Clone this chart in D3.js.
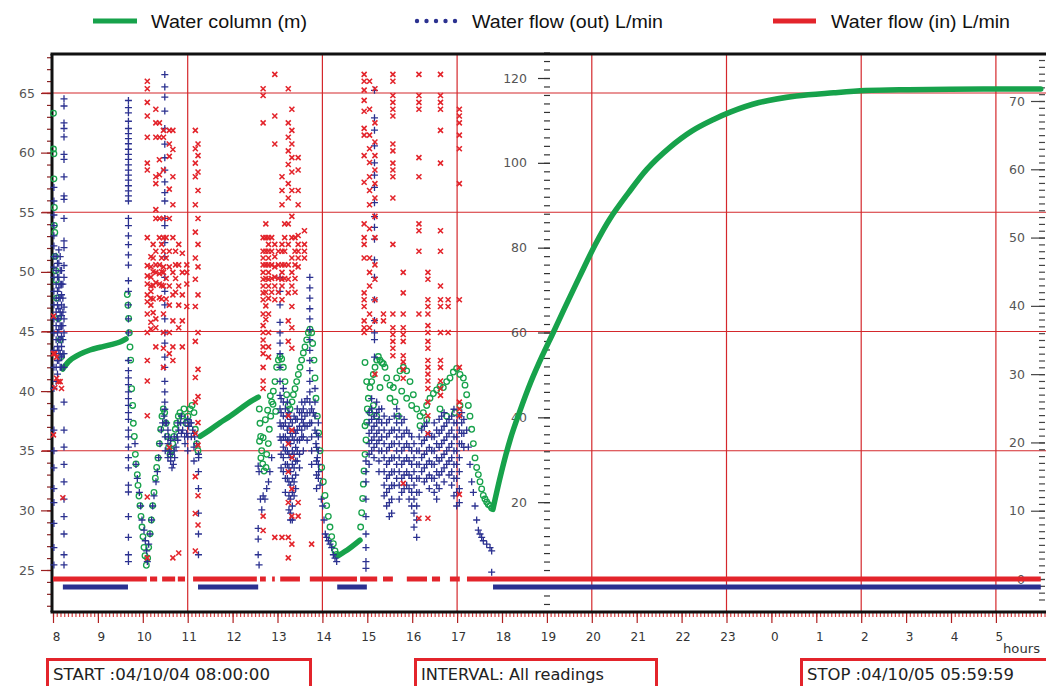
<!DOCTYPE html>
<html>
<head>
<meta charset="utf-8">
<script src="https://cdn.jsdelivr.net/npm/d3@7"></script>
<style>
  body { margin: 0; background: #fff; }
  svg { display: block; font-family: "DejaVu Sans", Verdana, sans-serif; }
</style>
</head>
<body>
<svg id="chart" width="1046" height="686"></svg>
<script>
// ---- axes / labels ----
const hourTicks = [8,9,10,11,12,13,14,15,16,17,18,19,20,21,22,23,24,25,26,27,28,29];
const gridHours = [11,14,17,20,23,26,29];
const leftTicks = [25,30,35,40,45,50,55,60,65];      // water column (m)
const gridLeft = [35,45,55,65];
const middleTicks = [20,40,60,80,100,120];           // flow out L/min
const rightTicks = [0,10,20,30,40,50,60,70];         // flow in L/min
const infoBoxes = ["START :04/10/04 08:00:00", "INTERVAL: All readings", "STOP :04/10/05 05:59:59"];

// ---- water column (m): steady stretches (dense readings) ----
const columnSteady = [
  [[8.215,41.85],[8.378,42.58],[8.601,43.10],[8.824,43.45],[9.047,43.68],[9.27,43.88],[9.492,44.12],[9.626,44.38]],
  [[11.274,36.2],[11.497,36.75],[11.72,37.35],[11.942,37.9],[12.165,38.5],[12.388,39.1],[12.573,39.5]],
  [[14.355,26.2],[14.6,26.8],[14.837,27.5]],
  [[17.797,30.08],[17.98,33.1],[18.187,36.0],[18.396,38.3],[18.646,40.8],[18.895,42.95],[19.145,44.94],[19.394,46.96],
   [19.728,49.6],[20.078,52.3],[20.394,54.4],[20.811,56.6],[21.225,58.6],[21.726,60.4],[22.225,61.8],[22.724,62.8],
   [23.082,63.4],[23.724,64.2],[24.554,64.75],[25.387,65.02],[26.095,65.2],[27.05,65.28],[28.718,65.34],[30.0,65.34]]
];

// ---- water column (m): readings while pumping ----
const columnReadings = [
  [8.01,63.3],[8.01,60.3],[8.02,59.9],[8.02,57.8],[8.03,55.4],[8.03,53.9],[8.04,53.3],[8.05,51.3],[8.06,50.1],[8.07,49.3],
  [8.08,47.8],[8.12,46.1],[8.16,44.3],[8.19,42.9],
  [9.655,48.1],[9.67,47.2],[9.685,46.1],[9.7,44.9],[9.715,43.7],[9.73,42.6],[9.752,40.2],[9.774,38.8],[9.789,37.3],[9.811,36.2],
  [9.834,34.7],[9.848,33.9],[9.878,33.0],[9.893,32.1],[9.915,31.2],[9.937,30.4],[9.96,29.5],[9.982,28.6],[10.004,27.8],[10.027,26.9],
  [10.049,26.2],[10.079,25.4],[10.108,26.0],[10.131,26.9],[10.16,28.05],[10.19,29.2],[10.22,30.4],[10.249,31.5],[10.279,32.7],[10.309,33.6],
  [10.338,34.4],[10.368,35.6],[10.398,36.8],[10.427,37.9],[10.457,38.5],[10.487,38.2],[10.517,37.3],[10.546,36.2],[10.576,35.3],[10.606,34.7],
  [10.635,35.0],[10.665,35.6],[10.695,36.2],[10.724,36.8],[10.754,37.3],[10.791,37.9],[10.828,38.2],[10.873,37.9],[10.917,38.5],[10.962,37.3],
  [11.007,37.9],[11.051,38.5],[11.096,38.8],[11.14,38.2],[11.17,36.8],[11.2,35.6],[11.229,35.0],
  [12.595,38.5],[12.61,37.3],[12.625,36.2],[12.647,35.0],[12.67,33.9],[12.7,33.3],[12.744,33.6],[12.759,34.7],[12.796,35.6],[12.818,36.8],
  [12.848,37.9],[12.87,39.1],[12.907,40.0],[12.944,40.8],[12.981,42.0],[13.019,42.6],[13.056,42.9],[13.093,42.7],[13.13,42.0],[13.167,40.8],
  [13.204,39.7],[13.241,38.8],[13.278,38.5],[13.323,39.1],[13.353,39.7],[13.39,40.2],[13.427,40.8],[13.464,41.4],[13.501,42.0],[13.538,42.6],
  [13.575,43.2],[13.612,43.7],[13.65,44.3],[13.687,44.9],[13.724,45.2],[13.761,44.9],[13.783,44.0],[13.813,42.6],[13.835,41.1],[13.857,39.4],
  [13.887,37.9],[13.917,36.5],[13.947,35.0],[13.984,33.6],[14.021,32.4],[14.058,31.25],[14.095,30.4],[14.132,29.5],[14.169,28.6],[14.207,27.8],
  [14.244,27.2],[14.281,26.6],[14.318,26.3],
  [12.6,35.8],[12.63,34.4],[12.68,36.1],[12.73,37.6],[12.78,38.4],[12.84,39.6],[12.9,38.9],[12.96,38.3],
  [14.852,28.6],[14.875,29.8],[14.897,31.0],[14.912,32.2],[14.927,33.3],[14.949,34.7],[14.971,35.9],[14.986,37.4],[15.001,38.5],[15.023,39.4],
  [14.986,40.8],[14.949,42.4],[15.06,40.3],[15.097,40.8],[15.134,41.4],[15.172,42.0],[15.209,42.6],[15.246,42.9],[15.283,42.6],[15.32,42.4],
  [15.357,42.3],[15.394,42.0],[15.431,41.1],[15.506,40.5],[15.58,40.3],[15.654,41.1],[15.728,41.7],[15.803,42.0],[15.877,41.7],[15.951,40.8],
  [16.025,39.7],[16.1,38.5],[16.174,37.9],[16.248,38.2],[16.322,38.8],[16.396,39.4],[16.471,39.8],[16.545,40.1],[16.619,40.4],[16.693,40.3],
  [16.768,40.8],[16.842,41.1],[16.916,41.6],[16.99,41.9],[17.065,41.4],[17.139,41.1],[17.176,40.5],[17.213,39.7],[17.25,38.8],[17.287,37.9],
  [17.325,36.8],[17.362,35.6],[17.399,34.4],[17.436,33.6],[17.473,33.0],[17.51,32.4],[17.547,31.8],[17.584,31.25],[17.621,30.95],[17.659,30.7],
  [17.696,30.5],[17.733,30.4],[17.77,30.2],
  [14.949,37.1],[15.06,38.2],[15.134,38.8],[15.209,37.9],[15.283,40.3],[15.506,39.4],[15.617,39.1],[15.691,37.9],[15.766,40.0],[15.877,39.4],
  [15.988,38.8],[16.174,37.1],[16.322,37.6],[16.619,38.5],[16.768,37.9],[16.953,38.2],[17.065,38.8]
];

// ---- water flow (out) L/min: idle stretches at zero, readings while pumping ----
const flowOutIdle = [[8.22,9.67],[11.23,12.57],[14.33,14.99],[17.8,30.0]];
const flowOutReadings = [
  [8.02,[94.2,91.0,87.7,85.2,82.8,80.4,77.9,75.4,73.0,69.7,66.5,63.2,59.9,55.8,51.8,46.8,42.0,37.0,32.1,28.1,23.2,19.9,15.0,9.3,5.2]],
  [8.07,[78.0,74.6,71.4,68.1,64.8,61.6,58.3,55.0,51.8,48.5]],
  [8.1,[76.3,73.0,69.7,66.5,63.2,59.9,56.7,53.4,50.2]],
  [8.13,[79.5,76.3,73.0,70.5,68.1,65.6,63.2,60.7,58.3,55.8,53.4]],
  [8.16,[77.9,74.6,71.4,68.1,64.8,61.6,58.3,55.0,51.8]],
  [8.19,[74.6,71.4,68.9,66.5,64.0,61.6,59.1,56.7,54.2,51.8]],
  [8.22,[71.4,68.1,64.8,61.6,58.3,55.0]],
  [8.245,[115.1,113.4,109.4,108.1,106.1,102.0,100.8,96.7,92.2,91.4,86.9,81.6,80.0,75.8,73.0,66.0,63.2,59.9,55.0,51.8,43.6,37.0,33.0,28.9,24.8,20.7,16.6,12.5,7.6,5.2]],
  [9.68,[114.7,113.0,111.8,109.8,108.1,106.9,105.7,104.5,103.2,102.0,100.8,99.5,98.3,97.1,95.9,94.6,93.4,92.2,91.0,86.9,85.2,82.8,80.7,78.3,75.9,
         72.2,69.7,66.5,63.2,59.9,53.4,51.0,49.3,47.7,46.0,44.4,42.8,41.1,39.5,37.0,35.4,33.0,30.5,28.1,24.0,22.4,16.6,11.7,7.6,6.0]],
  [9.826,[33.8]],[9.848,[28.9]],[9.878,[25.6]],[9.923,[22.3]],[9.952,[19.1]],[9.982,[15.8]],[10.027,[13.4]],[10.056,[10.9]],[10.086,[8.5]],
  [10.101,[6.0]],[10.131,[10.1]],[10.16,[12.5]],[10.197,[15.8]],[10.22,[19.1]],[10.249,[21.5]],[10.294,[24.8]],[10.324,[27.2]],[10.353,[30.5]],
  [10.383,[33.8]],[10.413,[37.0]],[10.442,[38.7]],[10.472,[40.3]],[10.531,[38.7]],[10.569,[35.4]],[10.591,[32.1]],[10.621,[29.7]],[10.65,[28.1]],
  [10.68,[28.9]],[10.71,[30.5]],[10.74,[33.0]],[10.769,[35.4]],[10.799,[37.0]],[10.843,[38.7]],[10.888,[37.0]],[10.932,[35.4]],[10.977,[36.2]],
  [11.022,[37.9]],[11.051,[38.7]],[11.111,[37.0]],[11.155,[35.4]],[11.2,[33.8]],[11.244,[30.5]],
  [10.5,[38.7,35.4,32.1]],[10.56,[37.0,33.8,30.5]],[10.62,[34.6,31.3]],[10.7,[32.1,35.4]],[10.78,[38.7,34.6]],[10.86,[36.2,40.3]],
  [10.94,[38.7,33.8]],[11.0,[39.5,35.4,32.1]],[11.08,[38.7,35.4]],[11.14,[36.2,33.0,29.7]],
  [10.49,[120.8,117.9,115.5,112.2,108.1,104.4,101.2,98.3,95.5,93.0,91.0,86.9,85.2,81.2,77.9,73.0,69.7,66.5,63.2,59.9,57.5,54.2,51.8,48.5,46.0,43.6,41.9]],
  [11.24,[31.3,27.2,23.2,17.4,12.5,7.6]],
  [12.57,[28.5,13.8,11.3,7.6]],[12.59,[27.2,5.2]],[12.62,[20.7]],[12.65,[18.2]],[12.68,[21.5]],[12.72,[20.7]],[12.76,[23.2]],[12.8,[24.8]],
  [12.83,[27.2]],[12.87,[30.5]],
  [13.056,[73.0,69.7,66.5,62.4,59.9,57.5,55.0,51.8,48.5,45.2,42.0,38.7,35.4]],
  [13.08,[44.4,41.1,37.9,34.6,31.3,28.1]],
  [13.13,[46.8,43.6,40.3,37.9,35.4,33.0,30.5,27.2]],
  [13.175,[42.0,38.7,35.4,32.1,28.9,25.6,22.3]],
  [13.22,[43.6,40.3,37.0,34.6,32.1,28.9,25.6]],
  [13.255,[41.1,37.9,34.6,31.3,28.1,24.8,21.5,18.2]],
  [13.29,[39.5,36.2,33.8,30.5,27.2,24.0,20.7,17.4,15.8]],
  [13.33,[38.7,35.4,32.1,28.9,25.6,22.3,19.1,15.8]],
  [13.37,[40.3,37.0,34.6,31.3,28.1,24.8,21.5]],
  [13.405,[39.5,36.2,32.9,29.7,26.4,23.2]],
  [13.44,[42.0,39.5,37.0,34.6,32.1,29.7]],
  [13.49,[41.1,37.9,34.6,31.3,28.1]],
  [13.54,[43.6,41.1,39.5,37.0,35.4]],
  [13.575,[42.0,38.7,35.4,32.1]],
  [13.61,[43.6,40.3,37.9]],
  [13.66,[44.4,41.1,37.9,34.6]],
  [13.72,[73.0,70.5,68.1,65.6,63.2,60.7,58.3,55.8,53.4,51.0,48.5,46.0,43.6,41.1,38.7]],
  [13.76,[42.0,38.7,35.4,32.1,28.9]],
  [13.835,[46.8,43.6,40.3,37.0]],
  [13.87,[36.2,32.9,29.7,26.4,23.2]],
  [13.91,[38.7,35.4,32.1,28.9,25.6]],
  [13.798,[41.1]],[13.857,[33.8]],[13.887,[30.5]],[13.917,[27.2]],[13.947,[24.0]],[13.976,[20.7]],[14.006,[19.1]],[14.036,[15.8]],
  [14.065,[12.5]],[14.095,[11.7]],[14.132,[10.9]],[14.169,[10.1]],[14.207,[9.3]],[14.244,[7.6]],[14.281,[6.8]],[14.318,[6.0]],
  [14.97,[4.4,6.0,9.3,12.5,16.6,20.7,24.8,27.2,29.7]],
  [15.16,[117.1,110.6,107.7,104.0,100.0,97.1,94.2,90.6,87.3,84.8,82.0,77.1,73.0,67.7,62.8,59.9,58.3,54.2]],
  [15.04,[41.1,38.7,36.2,33.8,31.3,28.9]],
  [15.097,[44.4,42.0,39.5,37.0,34.6,32.1]],
  [15.15,[40.3,37.9,35.4,32.9,30.5]],
  [15.209,[43.6,41.1,38.7,36.2,33.8]],
  [15.26,[41.9,39.5,37.0,34.6,32.1,29.7,27.2]],
  [15.32,[42.0,38.7,35.4,32.1]],
  [15.375,[40.3,37.0,33.8,30.5,27.2,24.0,21.5]],
  [15.431,[38.7,35.4,32.1,28.9,25.6,22.3,19.1]],
  [15.49,[39.5,36.2,32.9,29.7,26.4,23.2,19.9,16.6]],
  [15.543,[37.0,33.8,30.5,27.2,24.0,20.7,17.4]],
  [15.6,[40.3,37.0,33.8,30.5,27.2,23.9]],
  [15.654,[42.0,38.7,35.4,32.1,28.9,25.6]],
  [15.71,[40.3,37.0,33.8,30.5,27.2,24.0,20.7]],
  [15.766,[38.7,35.4,32.1,28.9,25.6,22.3]],
  [15.82,[39.5,36.2,32.9,29.7,26.4,23.2]],
  [15.877,[37.0,33.8,30.5,27.2,24.0]],
  [15.93,[36.2,32.9,29.7,26.4,23.2,20.7]],
  [15.988,[35.4,32.1,28.9,25.6,22.3,19.1]],
  [16.04,[33.8,30.5,27.2,24.0,20.7,17.4,14.1]],
  [16.1,[32.1,28.9,25.6,22.3,19.1,15.8,11.7]],
  [16.155,[35.4,32.1,28.9,25.6,22.3]],
  [16.211,[37.0,33.8,30.5,27.2]],
  [16.27,[37.9,34.6,31.3,28.1,24.8]],
  [16.322,[38.7,35.4,32.1,28.9,25.6]],
  [16.38,[36.2,32.9,29.7,26.4,23.2]],
  [16.434,[35.4,32.1,28.9,25.6]],
  [16.49,[38.7,35.4,32.1,28.9,25.6,22.3]],
  [16.545,[37.0,33.8,30.5,27.2,24.0,20.7]],
  [16.6,[39.5,36.2,32.9,29.7,26.4,23.2]],
  [16.656,[40.3,37.0,33.8,30.5,27.2]],
  [16.71,[41.1,37.9,34.6,31.3,28.1,24.8]],
  [16.768,[38.7,35.4,32.1,28.9]],
  [16.82,[39.5,36.2,32.9,29.7,26.4]],
  [16.879,[40.3,37.0,33.8,30.5,27.2,24.0]],
  [16.93,[41.9,38.7,35.4,32.1,28.9,25.6,21.5]],
  [16.99,[38.7,35.4,32.1,28.9,25.6,22.3,19.1]],
  [17.05,[40.3,37.0,33.8,30.5,27.2,23.2,19.9]],
  [17.102,[41.1,38.7,36.2,33.8]],
  [17.15,[39.5,36.2,32.9]],
  [17.213,[37.0]],[17.25,[33.0]],[17.287,[28.9]],[17.325,[24.8]],[17.362,[22.3]],[17.399,[19.1]],[17.436,[15.8]],[17.473,[13.4]],
  [17.51,[12.5]],[17.547,[11.7]],[17.584,[10.9]],[17.659,[10.1]],[17.733,[9.3]],[17.77,[8.5,3.5]]
];

// ---- water flow (in) L/min: zero stretches, readings while pumping ----
const flowInIdle = [[8.0,10.09],[10.16,10.32],[10.43,10.72],[10.78,10.94],[11.12,12.54],[12.61,12.74],[12.88,12.94],[13.06,13.5],
  [13.72,14.77],[14.84,15.22],[15.35,15.57],[15.88,16.33],[16.44,16.62],[16.84,17.06],[17.22,30.0]];
const flowInReadings = [
  [8.01,[38.5,33.0,21.1]],[8.04,[33.0,28.0]],[8.08,[32.5,29.4]],[8.12,[28.9]],[8.16,[28.9]],[8.19,[27.9]],[8.22,[11.9]],
  [10.1,[72.9,71.8,69.8,67.8,64.7,60.9,59.9,50.0,45.9,44.4,43.2,41.6,40.6,38.8,36.1,32.0,29.0,23.9,12.0,3.1]],
  [10.18,[47.2,45.7,44.2,42.9,42.1,41.1,40.1,37.6,36.6]],
  [10.23,[49.0,47.0,45.0,43.0,41.0,39.0]],
  [10.29,[68.8,66.8,64.7,58.9,57.9,54.1,52.8,48.0,46.0,44.9,43.4,38.1,36.8,34.0]],
  [10.37,[66.8,64.7,61.4,59.2,52.8,50.0,46.0,44.7,43.2,41.2]],
  [10.42,[49.0,47.0,45.0,43.0,41.0]],
  [10.46,[65.7,64.7,59.9,52.8,50.0,48.0,45.7,44.9,42.9,38.8,36.1,33.8,31.0]],
  [10.52,[50.0,47.0,44.0,41.0]],
  [10.59,[65.7,63.7,61.9,57.1,52.8,48.0,45.7,42.9,40.1,36.1,33.0,19.3]],
  [10.67,[65.7,62.9,58.9,54.8,50.0,44.9,41.6,37.8,34.0,32.0,3.1]],
  [10.73,[48.0,46.0,44.0,42.0]],
  [10.8,[49.0,46.0,42.9,40.1,36.8,3.8]],
  [10.88,[47.7,44.9,41.6,37.8,34.0]],
  [10.98,[46.0,44.9,43.2,39.9]],
  [11.17,[65.7,63.0,60.9,58.9,54.8,50.8,47.0,43.9,39.9,34.8,29.5,25.9,21.3,15.0,9.6,4.1]],
  [11.23,[63.7,62.0,59.6,56.9,52.8,49.0,45.7,41.6,36.1,30.7,26.7,22.9,19.6,12.2,7.9]],
  [12.68,[71.8,70.8,66.8,50.0,48.0,47.0,46.0,44.9,43.9,42.9,41.9,40.9,38.8,37.1,36.1,35.0,34.0,33.0,31.0,29.0,27.9,9.2,7.1]],
  [12.74,[52.0,50.0,48.0,46.0,44.0,42.0,40.0,38.0]],
  [12.8,[50.0,49.0,48.0,47.0,46.0,44.9,43.9,42.9,41.1,38.8,36.1,34.0,32.5]],
  [12.87,[50.0,48.0,46.0,44.0,42.0]],
  [12.94,[73.9,67.8,63.7,49.0,47.2,45.7,44.2,42.9,40.9,6.1]],
  [13.02,[48.0,46.0,44.0,42.0]],
  [13.1,[58.9,56.9,54.8,49.0,48.0,46.0,44.9,43.9,42.9,40.9,6.1]],
  [13.16,[52.0,50.0,48.0,46.0,44.0]],
  [13.24,[71.8,66.8,64.7,62.7,60.7,57.9,55.8,52.0,49.0,46.0,43.9,41.9,37.8,34.8,23.9,19.8,15.7,11.2,6.1,3.1]],
  [13.32,[68.8,65.7,63.7,61.7,59.6,56.9,53.1,50.0,47.0,44.9,42.9,39.9,36.8,33.8,21.8,17.8,13.2,9.2,5.1]],
  [13.39,[50.0,48.0,46.0,44.0,42.0]],
  [13.46,[61.7,59.9,56.9,54.8,50.3,49.0,48.0,47.0,45.7,11.2,9.2]],
  [13.6,[51.0,49.0,48.0,47.0]],
  [13.76,[5.1]],
  [14.93,[73.9,72.9,71.6,70.1,68.5,66.0,65.0,62.0,58.1,52.0,50.0,49.0,47.0,41.9,40.9,39.9,37.8,36.8,36.1]],
  [15.05,[72.9,68.8,65.0,63.0,61.0,58.9,56.9,54.8,51.3,47.0,44.9,42.9,38.8,36.8]],
  [15.17,[71.8,66.8,64.0,62.0,59.9,57.9,55.8,53.1,50.0,46.0,43.9,40.9,37.8,30.0]],
  [15.36,[38.8,37.8]],
  [15.57,[73.9,72.9,70.8,69.8,68.8,67.8,63.7,62.7,60.9,59.9,58.9,55.8,49.0,38.8,36.8,35.8,34.8,33.8,32.7]],
  [15.8,[44.9,41.9,38.8,36.8,35.8,34.8,32.7,31.8,30.7,29.4,14.0]],
  [16.15,[73.9,70.8,69.8,68.8,61.7,58.9,52.0,51.0,48.0,38.8,8.9]],
  [16.35,[44.9,43.9,40.9,39.9,38.8,37.1,36.1,34.8,33.8,32.0,31.0,30.0,29.0,27.9,25.9,23.9,21.3,8.9]],
  [16.63,[73.9,70.8,69.8,68.8,65.7,60.9,51.0,48.0,42.9,40.9,39.9,36.1,32.0,31.0,29.0,27.9,26.9]],
  [16.8,[40.9,39.9,36.1]],
  [17.05,[68.8,67.8,66.8,65.0,63.0,57.9,40.9,31.0,25.9,24.9,23.9,12.4]]
];

// ---- chart ----
const svg = d3.select("#chart");
const GREEN = "#17a24b", BLUE = "#2b3190", RED = "#e3242b", GRID = "#d4282c";

const x = d3.scaleLinear().domain([8, 30]).range([53, 1040.8]);
const yColumn = d3.scaleLinear().domain([25, 65]).range([570, 93]);   // left
const yOut = d3.scaleLinear().domain([0, 120]).range([587, 78]);      // middle
const yIn = d3.scaleLinear().domain([0, 70]).range([579, 101]);       // right

const plotTop = 54, plotBottom = 612, plotLeft = 52, plotRight = 1046;

svg.append("rect").attr("width", 1046).attr("height", 686).attr("fill", "#fff");

// gridlines
svg.append("g").selectAll("line").data(gridLeft).join("line")
  .attr("x1", 42).attr("x2", plotRight)
  .attr("y1", d => yColumn(d)).attr("y2", d => yColumn(d))
  .attr("stroke", GRID).attr("stroke-width", 1.2);
svg.append("g").selectAll("line").data(gridHours).join("line")
  .attr("x1", d => x(d)).attr("x2", d => x(d))
  .attr("y1", plotTop).attr("y2", plotBottom)
  .attr("stroke", GRID).attr("stroke-width", 1.2);

// axes helper
function styleAxis(g, color, fontSize) {
  g.select(".domain").remove();
  g.selectAll(".tick line").attr("stroke", color).attr("stroke-width", 1.2);
  g.selectAll(".tick text").attr("fill", "#555").attr("font-size", fontSize)
    .attr("font-family", "DejaVu Sans, Verdana, sans-serif");
}

// left axis (water column)
svg.append("g").attr("transform", `translate(${plotLeft},0)`)
  .call(d3.axisLeft(yColumn).tickValues(d3.range(22, 69)).tickSize(5).tickFormat(""))
  .call(g => styleAxis(g, "#8a2424", 12));
svg.append("g").attr("transform", `translate(${plotLeft},0)`)
  .call(d3.axisLeft(yColumn).tickValues(leftTicks).tickSize(11).tickPadding(6))
  .call(g => styleAxis(g, "#9a2020", 12.5));

// middle axis (flow out)
svg.append("g").attr("transform", "translate(550,0)")
  .call(d3.axisLeft(yOut).tickValues(d3.range(-4, 127, 2)).tickSize(6).tickFormat(""))
  .call(g => styleAxis(g, "#333", 12));
svg.append("g").attr("transform", "translate(550,0)")
  .call(d3.axisLeft(yOut).tickValues(middleTicks).tickSize(12).tickPadding(11))
  .call(g => styleAxis(g, "#333", 12.5));

// right axis (flow in)
svg.append("g").attr("transform", "translate(1045,0)")
  .call(d3.axisLeft(yIn).tickValues(d3.range(-3, 77)).tickSize(6).tickFormat(""))
  .call(g => styleAxis(g, "#444", 12));
svg.append("g").attr("transform", "translate(1045,0)")
  .call(d3.axisLeft(yIn).tickValues(rightTicks).tickSize(14).tickPadding(6))
  .call(g => styleAxis(g, "#444", 12.5));

// bottom time axis
svg.append("g").attr("transform", `translate(0,${plotBottom + 1})`)
  .call(d3.axisBottom(x).tickValues(d3.range(8, 30.5, 1 / 12)).tickSize(4).tickFormat(""))
  .call(g => styleAxis(g, "#d84040", 11));
svg.append("g").attr("transform", `translate(0,${plotBottom + 1})`)
  .call(d3.axisBottom(x).tickValues(hourTicks).tickSize(10).tickPadding(9).tickFormat(d => d % 24))
  .call(g => styleAxis(g, "#b02020", 12))
  .call(g => g.selectAll(".tick text").attr("dx", d => d % 24 < 10 ? 3 : 1).attr("fill", "#333"));

svg.append("text").attr("x", 1003).attr("y", 653).attr("font-size", 12).attr("fill", "#333")
  .attr("textLength", 37).attr("lengthAdjust", "spacingAndGlyphs").text("hours");

// frame
const frame = svg.append("g").attr("stroke", "#111").attr("stroke-width", 3);
frame.append("line").attr("x1", plotLeft - 1.5).attr("x2", plotRight).attr("y1", plotTop).attr("y2", plotTop);
frame.append("line").attr("x1", plotLeft - 1.5).attr("x2", plotRight).attr("y1", plotBottom).attr("y2", plotBottom);
frame.append("line").attr("x1", plotLeft).attr("x2", plotLeft).attr("y1", plotTop).attr("y2", plotBottom);

// ---- series ----
const plot = svg.append("g");

// water column
const colLine = d3.line().x(d => x(d[0])).y(d => yColumn(d[1])).curve(d3.curveCatmullRom.alpha(0.5));
plot.append("g").selectAll("path").data(columnSteady).join("path")
  .attr("d", colLine).attr("fill", "none").attr("stroke", GREEN)
  .attr("stroke-width", 5.5).attr("stroke-linecap", "round");
plot.append("g").selectAll("circle").data(columnReadings).join("circle")
  .attr("cx", d => x(d[0])).attr("cy", d => yColumn(d[1])).attr("r", 2.8)
  .attr("fill", "none").attr("stroke", GREEN).attr("stroke-width", 1.3);

// flow out
plot.append("g").selectAll("line").data(flowOutIdle).join("line")
  .attr("x1", d => x(d[0])).attr("x2", d => x(d[1]))
  .attr("y1", yOut(0)).attr("y2", yOut(0))
  .attr("stroke", BLUE).attr("stroke-width", 5);
const outPts = flowOutReadings.flatMap(([t, vs]) => vs.map(v => [t, v]));
plot.append("g").selectAll("path").data(outPts).join("path")
  .attr("transform", d => `translate(${x(d[0])},${yOut(d[1])})`)
  .attr("d", "M-3.5,0H3.5M0,-3.5V3.5")
  .attr("stroke", BLUE).attr("stroke-width", 1.3).attr("fill", "none");

// flow in
plot.append("g").selectAll("line").data(flowInIdle).join("line")
  .attr("x1", d => x(d[0])).attr("x2", d => x(d[1]))
  .attr("y1", yIn(0)).attr("y2", yIn(0))
  .attr("stroke", RED).attr("stroke-width", 5);
const inPts = flowInReadings.flatMap(([t, vs]) => vs.map(v => [t, v]));
plot.append("g").selectAll("path").data(inPts).join("path")
  .attr("transform", d => `translate(${x(d[0])},${yIn(d[1])})`)
  .attr("d", "M-2.5,-2.5L2.5,2.5M-2.5,2.5L2.5,-2.5")
  .attr("stroke", RED).attr("stroke-width", 1.6).attr("fill", "none");

// ---- legend ----
const legend = svg.append("g").attr("font-family", "Liberation Sans, Arial, sans-serif").attr("font-size", 19).attr("fill", "#111");
legend.append("line").attr("x1", 93).attr("x2", 137).attr("y1", 21).attr("y2", 21).attr("stroke", GREEN).attr("stroke-width", 5);
legend.append("text").attr("x", 151).attr("y", 28).attr("textLength", 156).attr("lengthAdjust", "spacingAndGlyphs").text("Water column (m)");
legend.append("g").selectAll("circle").data([0, 1, 2, 3, 4]).join("circle")
  .attr("cx", d => 417 + d * 9.5).attr("cy", 21).attr("r", 2.2).attr("fill", BLUE);
legend.append("text").attr("x", 472).attr("y", 28).attr("textLength", 191).attr("lengthAdjust", "spacingAndGlyphs").text("Water flow (out) L/min");
legend.append("line").attr("x1", 773).attr("x2", 816).attr("y1", 21).attr("y2", 21).attr("stroke", RED).attr("stroke-width", 5);
legend.append("text").attr("x", 831).attr("y", 28).attr("textLength", 179).attr("lengthAdjust", "spacingAndGlyphs").text("Water flow (in) L/min");

// ---- info boxes ----
const boxX = [47.5, 415.5, 801.5], boxW = [263, 241, 250], textW = [217, 183, 207];
const boxes = svg.append("g").selectAll("g").data(infoBoxes).join("g");
boxes.append("rect").attr("x", (d, i) => boxX[i]).attr("y", 659.5).attr("width", (d, i) => boxW[i]).attr("height", 40)
  .attr("fill", "none").attr("stroke", RED).attr("stroke-width", 3);
boxes.append("text").attr("x", (d, i) => boxX[i] + 5.5).attr("y", 680).attr("font-size", 15).attr("fill", "#222")
  .attr("textLength", (d, i) => textW[i]).attr("lengthAdjust", "spacingAndGlyphs").text(d => d);
</script>
</body>
</html>
